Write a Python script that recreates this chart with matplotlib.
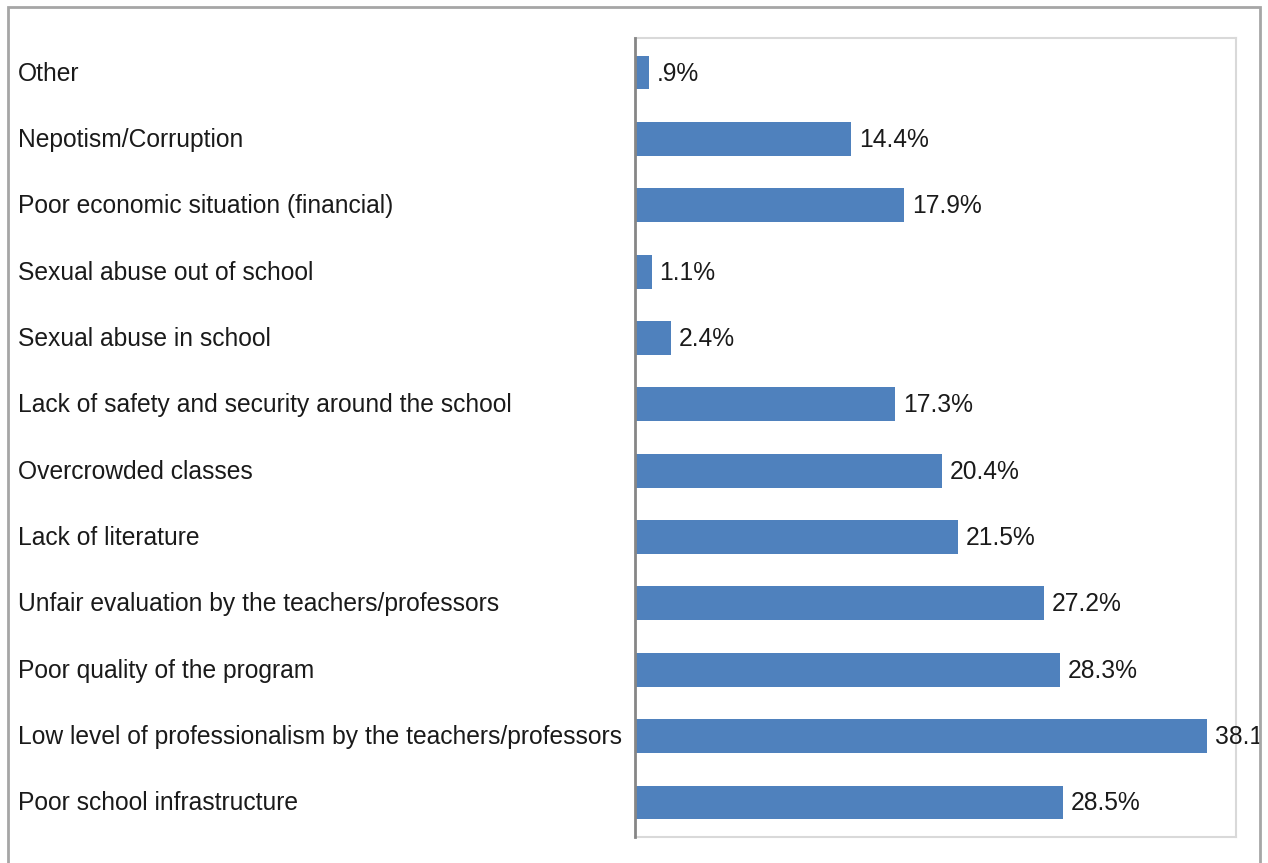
import matplotlib
matplotlib.use("Agg")
import matplotlib.pyplot as plt
import matplotlib.transforms as mtransforms
from matplotlib.patches import Rectangle
from matplotlib.transforms import Bbox

categories = [
    "Other",
    "Nepotism/Corruption",
    "Poor economic situation (financial)",
    "Sexual abuse out of school",
    "Sexual abuse in school",
    "Lack of safety and security around the school",
    "Overcrowded classes",
    "Lack of literature",
    "Unfair evaluation by the teachers/professors",
    "Poor quality of the program",
    "Low level of professionalism by the teachers/professors",
    "Poor school infrastructure",
]
values = [0.9, 14.4, 17.9, 1.1, 2.4, 17.3, 20.4, 21.5, 27.2, 28.3, 38.1, 28.5]
value_labels = [".9%", "14.4%", "17.9%", "1.1%", "2.4%", "17.3%", "20.4%",
                "21.5%", "27.2%", "28.3%", "38.1%", "28.5%"]

W, H = 1268, 863
fig = plt.figure(figsize=(W / 100, H / 100), dpi=100)
fig.patch.set_facecolor("white")

FONT = ["Liberation Sans Narrow", "Liberation Sans", "DejaVu Sans"]
FS = 17.7

ax = fig.add_axes([635 / W, 1 - 837 / H, (1236 - 635) / W, (837 - 38) / H])
ypos = list(range(len(categories)))
ax.barh(ypos, values, height=0.51, color="#4f81bd", zorder=2)
ax.set_xlim(0, 40)
ax.set_ylim(len(categories) - 0.5 + 0.02, -0.5 - 0.02)
ax.set_xticks([])
ax.set_yticks([])
for s in ["top", "right", "bottom"]:
    ax.spines[s].set_color("#d9d9d9")
    ax.spines[s].set_linewidth(1.5)
ax.spines["left"].set_color("#868686")
ax.spines["left"].set_linewidth(2.0)
ax.spines["left"].set_zorder(3)

clip = Bbox.from_extents(0, 0, 1261, H)
trans_lab = mtransforms.blended_transform_factory(fig.transFigure, ax.transData)
lab_off = mtransforms.offset_copy(trans_lab, fig=fig, x=0, y=-1, units="dots")
for y, cat in zip(ypos, categories):
    fig.text(18 / W, y, cat, transform=lab_off, ha="left", va="center",
             fontsize=FS, family=FONT, color="#1a1a1a")

off = mtransforms.offset_copy(ax.transData, fig=fig, x=8, y=-1, units="dots")
for y, v, lab in zip(ypos, values, value_labels):
    t = ax.text(v, y, lab, transform=off, ha="left", va="center",
                fontsize=FS, family=FONT, color="#1a1a1a", clip_on=False)
    t.set_clip_box(clip)
    t.set_clip_on(True)

# outer frame
frame = Rectangle((8 / W, -0.05), (1260 - 8) / W, 1 - 7 / H + 0.05,
                  transform=fig.transFigure, fill=False,
                  edgecolor="#a6a6a6", linewidth=2.0)
fig.patches.append(frame)

fig.savefig("out.png", dpi=100)
